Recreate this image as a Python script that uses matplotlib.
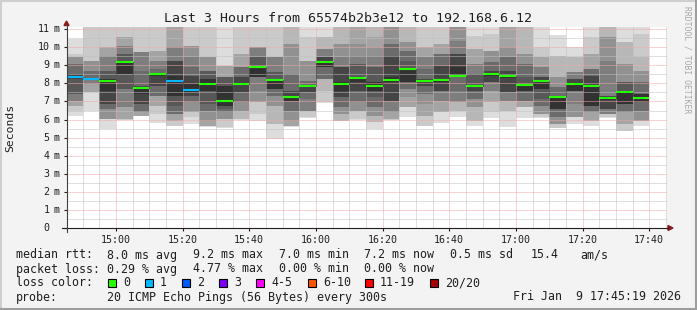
import numpy as np
import pandas as pd
import matplotlib
matplotlib.use("Agg")
import matplotlib.pyplot as plt
import matplotlib.dates as mdates
from matplotlib.patches import Rectangle, Polygon

W, H = 697, 310
MONO = "DejaVu Sans Mono"

# 5 minute rrd steps, 14:45 .. 17:35
bar_start = pd.date_range("2026-01-09 14:45", periods=35, freq="5min")

median_ms = [8.35, 8.22, 8.11, 9.21, 7.77, 8.50, 8.11, 7.62, 7.98, 7.01,
             7.94, 8.88, 8.21, 7.22, 7.83, 9.16, 7.95, 8.28, 7.88, 8.17,
             8.82, 8.16, 8.21, 8.39, 7.88, 8.50, 8.40, 7.89, 8.11, 7.22,
             7.94, 7.83, 7.17, 7.51, 7.17]

lost_pings = [1, 1, 0, 0, 0, 0, 1, 1, 0, 0, 0, 0, 0, 0, 0, 0, 0, 0,
              0, 0, 0, 0, 0, 0, 0, 0, 0, 0, 0, 0, 0, 0, 0, 0, 0]

# sorted ping times (ms) per step
pings = [
    [6.21, 6.49, 6.76, 6.76, 7.04, 7.04, 7.41, 7.41, 8.24, 8.28, 8.33, 8.52, 8.52, 9.07, 9.07, 9.44, 9.44, 9.44, 9.62, 10.45],
    [6.49, 7.5, 7.5, 7.5, 7.96, 7.96, 8.19, 8.19, 8.2, 8.2, 8.21, 8.23, 8.24, 8.7, 8.7, 9.25, 9.25, 9.25, 11.5, 11.6],
    [5.47, 6.03, 6.03, 6.03, 6.03, 6.58, 6.58, 6.86, 6.86, 7.59, 8.24, 8.24, 8.7, 8.7, 9.53, 9.53, 9.99, 9.99, 11.5, 11.6],
    [5.98, 6.0, 6.02, 6.03, 6.67, 6.67, 7.69, 7.69, 8.52, 8.52, 9.25, 9.25, 9.62, 9.62, 10.08, 10.08, 10.54, 10.54, 11.5, 11.6],
    [6.19, 6.2, 6.2, 6.21, 6.4, 6.4, 6.4, 6.86, 6.86, 7.4, 7.78, 7.87, 7.87, 8.7, 9.71, 9.71, 9.71, 9.71, 11.5, 11.6],
    [5.8, 6.3, 6.76, 6.76, 7.32, 7.32, 7.32, 7.87, 7.87, 8.42, 8.48, 8.5, 8.52, 8.79, 9.25, 9.25, 9.81, 9.81, 11.5, 11.6],
    [5.65, 5.66, 5.94, 5.94, 6.3, 6.3, 6.3, 6.76, 7.32, 7.32, 8.42, 9.25, 9.25, 9.25, 9.99, 9.99, 11.5, 11.5, 11.5, 11.6],
    [5.75, 6.12, 6.4, 6.4, 6.4, 6.95, 6.95, 7.32, 7.32, 7.55, 7.96, 8.42, 8.42, 8.88, 9.44, 10.08, 10.08, 10.08, 11.5, 11.6],
    [5.6, 5.62, 5.64, 5.66, 5.94, 6.49, 6.49, 6.86, 7.59, 7.59, 8.24, 8.24, 8.7, 8.7, 8.7, 9.44, 9.44, 9.44, 11.5, 11.6],
    [5.55, 5.57, 6.03, 6.03, 6.03, 6.4, 6.4, 6.58, 6.76, 6.76, 7.87, 7.87, 8.33, 8.33, 8.33, 8.33, 8.98, 8.98, 8.98, 11.6],
    [6.0, 6.02, 6.03, 6.49, 6.49, 6.95, 6.95, 7.5, 7.5, 7.9, 7.96, 8.33, 8.33, 8.88, 8.88, 8.88, 9.62, 9.62, 11.5, 11.6],
    [5.94, 6.3, 6.95, 6.95, 6.95, 7.59, 8.33, 8.33, 8.33, 8.33, 8.98, 8.98, 9.44, 9.44, 9.99, 9.99, 9.99, 9.99, 11.5, 11.6],
    [4.92, 5.75, 5.75, 6.76, 6.76, 7.32, 7.32, 7.69, 7.69, 7.69, 8.22, 8.24, 8.61, 8.61, 9.44, 9.44, 9.44, 9.44, 11.5, 11.6],
    [5.6, 5.62, 5.64, 5.66, 5.94, 6.49, 6.49, 7.04, 7.04, 7.04, 7.32, 7.59, 7.59, 8.52, 8.52, 10.17, 10.17, 11.5, 11.5, 11.6],
    [6.1, 6.12, 6.49, 6.49, 6.49, 6.49, 7.13, 7.5, 7.5, 7.8, 7.85, 7.87, 7.87, 8.15, 8.15, 9.25, 9.25, 9.25, 10.54, 11.1],
    [6.9, 6.95, 7.59, 8.24, 8.24, 8.24, 8.24, 8.88, 8.88, 8.88, 9.16, 9.44, 9.44, 9.44, 9.9, 9.9, 9.9, 10.54, 10.54, 11.6],
    [5.92, 5.93, 5.94, 6.3, 6.3, 6.67, 6.67, 7.23, 7.23, 7.59, 8.05, 8.88, 8.88, 8.88, 9.44, 10.17, 10.17, 11.5, 11.5, 11.6],
    [6.0, 6.03, 6.49, 6.49, 6.49, 6.95, 6.95, 7.59, 7.59, 8.05, 8.33, 8.33, 9.07, 9.07, 9.53, 10.17, 11.5, 11.5, 11.5, 11.6],
    [5.47, 5.84, 5.84, 6.21, 6.21, 6.67, 6.67, 7.23, 7.59, 7.59, 8.05, 8.05, 8.88, 8.88, 9.53, 9.99, 10.54, 11.5, 11.5, 11.6],
    [5.98, 6.0, 6.02, 6.03, 6.4, 6.4, 7.04, 7.04, 7.04, 8.05, 8.33, 9.53, 9.53, 10.17, 10.17, 11.5, 11.5, 11.5, 11.5, 11.6],
    [6.12, 6.67, 6.67, 6.67, 7.23, 7.69, 7.69, 8.05, 8.05, 8.05, 8.79, 8.79, 9.25, 9.81, 9.81, 10.27, 10.27, 11.5, 11.5, 11.6],
    [5.65, 5.66, 6.21, 6.21, 6.86, 7.41, 7.41, 7.87, 7.87, 8.1, 8.15, 8.24, 8.24, 8.79, 9.44, 9.44, 9.99, 9.99, 11.5, 11.6],
    [5.8, 6.4, 6.4, 6.4, 7.04, 7.04, 7.59, 7.59, 7.59, 8.1, 8.24, 8.98, 8.98, 9.62, 9.62, 9.62, 10.17, 10.17, 11.5, 11.6],
    [6.12, 6.49, 6.49, 6.95, 6.95, 6.95, 7.59, 8.33, 8.33, 8.33, 8.88, 9.62, 9.62, 9.62, 10.36, 11.5, 11.5, 11.5, 11.5, 11.6],
    [5.62, 5.94, 5.94, 6.67, 6.67, 7.13, 7.13, 7.59, 7.59, 7.8, 7.86, 7.87, 8.52, 8.52, 9.07, 9.07, 9.9, 9.9, 10.64, 11.6],
    [6.08, 6.4, 6.95, 6.95, 7.59, 7.59, 8.05, 8.05, 8.05, 8.4, 8.48, 8.7, 8.7, 9.16, 9.16, 9.81, 9.81, 9.81, 10.73, 11.6],
    [5.57, 6.49, 6.49, 7.04, 7.04, 7.04, 7.5, 7.5, 7.5, 8.3, 8.33, 8.7, 8.7, 9.44, 9.44, 9.99, 11.5, 11.5, 11.5, 11.6],
    [6.08, 6.67, 6.67, 6.67, 7.04, 7.04, 7.04, 7.59, 7.59, 7.59, 7.96, 7.96, 8.33, 9.07, 9.07, 9.62, 9.62, 11.5, 11.5, 11.6],
    [6.1, 6.12, 6.3, 6.3, 6.3, 6.76, 6.76, 7.13, 7.69, 7.69, 8.15, 8.33, 8.33, 8.33, 8.88, 8.88, 9.44, 9.44, 9.99, 11.6],
    [5.52, 5.53, 5.75, 5.75, 5.75, 6.12, 6.12, 6.58, 6.58, 6.58, 7.32, 7.32, 7.32, 7.78, 7.78, 8.33, 8.33, 9.53, 9.53, 10.68],
    [5.75, 6.12, 6.12, 6.12, 6.12, 6.86, 7.59, 7.59, 7.59, 7.59, 7.96, 8.24, 8.24, 8.24, 8.61, 8.61, 8.61, 9.44, 9.44, 9.99],
    [5.62, 5.94, 5.94, 5.94, 6.4, 6.4, 6.4, 6.76, 6.76, 6.76, 7.87, 8.42, 8.42, 8.79, 8.79, 8.79, 9.62, 9.62, 10.54, 11.6],
    [6.1, 6.12, 6.3, 6.3, 6.3, 6.3, 6.58, 6.58, 6.58, 7.1, 7.15, 7.32, 7.32, 7.32, 9.25, 10.54, 10.54, 11.5, 11.5, 11.6],
    [5.37, 5.38, 5.75, 5.75, 6.4, 6.4, 6.4, 6.86, 6.86, 6.86, 7.5, 7.5, 8.05, 8.05, 8.05, 9.07, 9.07, 10.27, 10.27, 11.6],
    [5.66, 5.94, 5.94, 5.94, 5.94, 6.49, 6.49, 6.95, 6.95, 6.95, 7.41, 7.41, 7.41, 8.05, 8.05, 8.7, 8.7, 9.44, 10.73, 11.6],
]

loss_labels = ["0", "1", "2", "3", "4-5", "6-10", "11-19", "20/20"]
loss_colors = ["#26ff00", "#00b8ff", "#0059ff", "#7e00ff", "#ff00ff",
               "#ff5500", "#ff0000", "#a10000"]
y_ticks = list(range(12))

rtt_stats = ["8.0 ms avg", "9.2 ms max", "7.0 ms min", "7.2 ms now", "0.5 ms sd", "15.4", "am/s"]
loss_stats = ["0.29 % avg", "4.77 % max", "0.00 % min", "0.00 % now"]


def fx(px):
    return px / W


def fy(py):
    return 1 - py / H


fig = plt.figure(figsize=(W / 100, H / 100), dpi=100)
fig.patch.set_facecolor("#f3f3f3")

ax = fig.add_axes([fx(67), fy(228), 600 / W, 201 / H])
ax.set_facecolor("white")

t0 = pd.Timestamp("2026-01-09 14:45:19")
t1 = pd.Timestamp("2026-01-09 17:45:19")
ax.set_xlim(t0, t1)
ax.set_ylim(0, 11.12)

# smoke: outer pairs light, inner pairs dark
arr = np.array(pings)
xs = mdates.date2num(bar_start)
bw = 5 / 1440
for k in range(10):
    g = int(190 / 10 * (10 - (k + 1))) + 50
    col = "#%02x%02x%02x" % (g, g, g)
    lo = arr[:, k]
    hi = arr[:, 19 - k]
    ax.bar(xs, hi - lo, bottom=lo, width=bw, align="edge", color=col,
           linewidth=0, zorder=1)

# grid on top of the smoke
ax.xaxis.set_major_locator(mdates.MinuteLocator(byminute=[0, 20, 40]))
ax.xaxis.set_minor_locator(mdates.MinuteLocator(byminute=range(0, 60, 5)))
ax.xaxis.set_major_formatter(mdates.DateFormatter("%H:%M"))
ax.set_yticks(y_ticks)
ax.set_yticks(np.arange(0.5, 11, 1), minor=True)
ax.set_yticklabels([])
ax.set_axisbelow(False)
ax.grid(which="minor", color="#c0c0c0", linestyle=(0, (1, 1)), linewidth=0.72)
ax.grid(which="major", color="#f4a8a8", linestyle=(0, (1, 1)), linewidth=0.72)

# median with loss colours
mcols = [loss_colors[n] for n in lost_pings]
edges = np.append(xs, xs[-1] + bw)
ax.plot(edges, median_ms + [median_ms[-1]], drawstyle="steps-post", color="#202020",
        linestyle=(0, (1, 1)), linewidth=0.72, zorder=3)
ax.hlines(median_ms, xs, xs + bw, colors=mcols, linewidth=1.5, zorder=4)

ax.tick_params(axis="x", which="major", length=2, color="#202020", labelsize=7.2,
               pad=3, labelfontfamily=MONO, labelcolor="#202020")
ax.tick_params(axis="x", which="minor", length=0)
ax.tick_params(axis="y", which="major", length=2, color="#202020")
ax.tick_params(axis="y", which="minor", length=0)
for s in ax.spines.values():
    s.set_visible(False)

# y labels in rrdtool style
for v in y_ticks:
    yy = fy(228) + v / 11.12 * 201 / H
    fig.text(fx(49.5), yy, str(v), ha="right", va="center", fontsize=7.2,
             family=MONO, color="#202020")
    if v > 0:
        fig.text(fx(57), yy, "m", ha="center", va="center", fontsize=7.2,
                 family=MONO, color="#202020")

# axis lines with arrows
fig.add_artist(plt.Line2D([fx(62), fx(668)], [fy(228), fy(228)], color="#202020", lw=0.8))
fig.add_artist(plt.Line2D([fx(66.5), fx(66.5)], [fy(232), fy(25)], color="#404040", lw=0.8))
fig.add_artist(Polygon([[fx(64), fy(25.5)], [fx(69), fy(25.5)], [fx(66.5), fy(21)]],
                       closed=True, color="#8b1a1a", transform=fig.transFigure))
fig.add_artist(Polygon([[fx(668), fy(225.5)], [fx(668), fy(230.5)], [fx(673), fy(228)]],
                       closed=True, color="#8b1a1a", transform=fig.transFigure))

# title, axis label, watermark
fig.text(fx(348), fy(19), "Last 3 Hours from 65574b2b3e12 to 192.168.6.12",
         ha="center", va="center", fontsize=9.5, family=MONO, color="#202020")
fig.text(fx(10), fy(128), "Seconds", ha="center", va="center", rotation=90,
         fontsize=8.2, family=MONO, color="#202020")
fig.text(fx(687), fy(60), "RRDTOOL / TOBI OETIKER", ha="center", va="center",
         rotation=270, fontsize=5.8, family=MONO, color="#a8a8a8")

# legend block
ty = [255, 269, 283, 297]
lkw = dict(fontsize=8.4, family=MONO, color="#202020", va="center")
fig.text(fx(16), fy(ty[0]), "median rtt:", **lkw)
for x, s in zip([107, 193, 279, 364, 450, 531, 580], rtt_stats):
    fig.text(fx(x), fy(ty[0]), s, **lkw)
fig.text(fx(16), fy(ty[1]), "packet loss:", **lkw)
for x, s in zip([107, 193, 279, 364], loss_stats):
    fig.text(fx(x), fy(ty[1]), s, **lkw)
fig.text(fx(16), fy(ty[2]), "loss color:", **lkw)
box_x = [108, 145, 182, 219, 256, 308, 365, 430]
for x, lab, c in zip(box_x, loss_labels, loss_colors):
    fig.add_artist(Rectangle((fx(x), fy(ty[2] + 4)), 8 / W, 8 / H, facecolor=c,
                             edgecolor="black", linewidth=0.8, transform=fig.transFigure))
    fig.text(fx(x + 15), fy(ty[2]), lab, **lkw)
fig.text(fx(16), fy(ty[3]), "probe:", **lkw)
fig.text(fx(107), fy(ty[3]), "20 ICMP Echo Pings (56 Bytes) every 300s", **lkw)
fig.text(fx(681), fy(ty[3]), "Fri Jan  9 17:45:19 2026", ha="right", **lkw)

# canvas shading border
fig.add_artist(plt.Line2D([0, 1], [fy(1), fy(1)], color="#cfcfcf", lw=1.5))
fig.add_artist(plt.Line2D([fx(1), fx(1)], [0, 1], color="#cfcfcf", lw=1.5))
fig.add_artist(plt.Line2D([0, 1], [fy(309), fy(309)], color="#9e9e9e", lw=1.5))
fig.add_artist(plt.Line2D([fx(696), fx(696)], [0, 1], color="#9e9e9e", lw=1.5))

fig.savefig("out.png", dpi=100, facecolor=fig.get_facecolor())
